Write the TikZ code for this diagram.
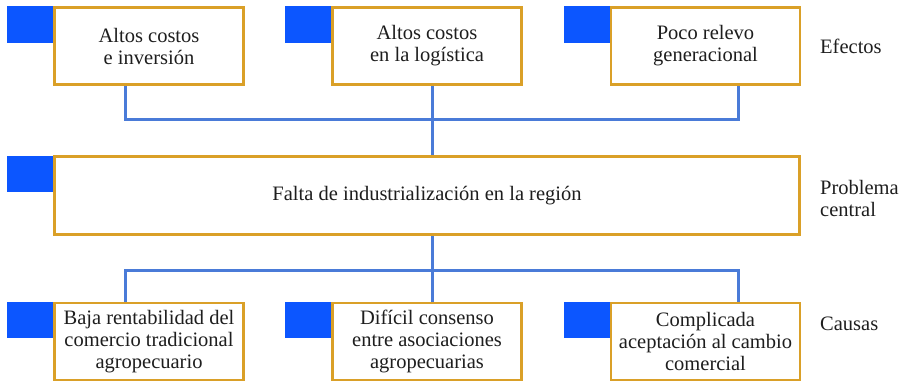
\documentclass[tikz,border=0pt]{standalone}
\usepackage{fontspec}
\setmainfont{Liberation Serif}
\usetikzlibrary{calc}
\definecolor{boxgold}{RGB}{218,160,40}
\definecolor{tagblue}{RGB}{12,86,255}
\definecolor{linkblue}{RGB}{74,123,216}
\definecolor{ink}{RGB}{30,30,30}
\tikzset{
  cell/.style={draw=boxgold,line width=2.8pt,fill=white,inner sep=0pt,
    minimum width=189pt,minimum height=77pt,align=center,text=ink,
    font=\fontsize{20.5}{22}\selectfont},
  tag/.style={fill=tagblue,draw=none},
  link/.style={draw=linkblue,line width=2.4pt},
  level/.style={anchor=west,align=left,text=ink,inner sep=0pt,
    font=\fontsize{20.5}{22}\selectfont}
}
\begin{document}
\begin{tikzpicture}[x=1pt,y=-1pt]
\useasboundingbox (0,0) rectangle (902,381);
% blue tags behind the boxes
    \fill[tag] (7,6) rectangle (56,43);
    \fill[tag] (285,6) rectangle (334,43);
    \fill[tag] (564,6) rectangle (613,43);
    \fill[tag] (7,156) rectangle (56,192);
    \fill[tag] (7,302) rectangle (56,338);
    \fill[tag] (285,302) rectangle (334,338);
    \fill[tag] (564,302) rectangle (613,338);
% effects
    \node[cell] (ef1) at (149,46) {Altos costos\\e inversión};
    \node[cell] (ef2) at (427,46) {Altos costos\\en la logística};
    \node[cell] (ef3) at (705.5,46) {Poco relevo\\generacional};
% central problem
    \node[cell,minimum width=745pt,minimum height=78pt] (pc) at (427,195.3)
        {Falta de industrialización en la región};
% causes
    \node[cell] (ca1) at (149,341.5) {Baja rentabilidad del\\comercio tradicional\\agropecuario};
    \node[cell] (ca2) at (427,341.5) {Difícil consenso\\entre asociaciones\\agropecuarias};
    \node[cell] (ca3) at (705.5,341.5) {Complicada\\aceptación al cambio\\comercial};
% row labels
    \node[level] (le) at (820,46) {Efectos};
    \node[level] (lp) at (820,198) {Problema\\central};
    \node[level] (lc) at (820,324) {Causas};
% connectors
    \coordinate (t1) at ($(ef1.south west)!.378!(ef1.south east)$);
    \coordinate (t2) at ($(ef2.south west)!.528!(ef2.south east)$);
    \coordinate (t3) at ($(ef3.south west)!.672!(ef3.south east)$);
    \coordinate (b1) at ($(ca1.north west)!.378!(ca1.north east)$);
    \coordinate (b2) at ($(ca2.north west)!.528!(ca2.north east)$);
    \coordinate (b3) at ($(ca3.north west)!.672!(ca3.north east)$);
    \coordinate (jt) at ($(t2)+(0,33.5)$);
    \coordinate (jb) at ($(b2)+(0,-31)$);
    \draw[link] (t1) |- (jt) -| (t3);
    \draw[link] (t2) -- (t2 |- pc.north);
    \draw[link] (b1) |- (jb) -| (b3);
    \draw[link] (b2) -- (b2 |- pc.south);
\end{tikzpicture}
\end{document}
